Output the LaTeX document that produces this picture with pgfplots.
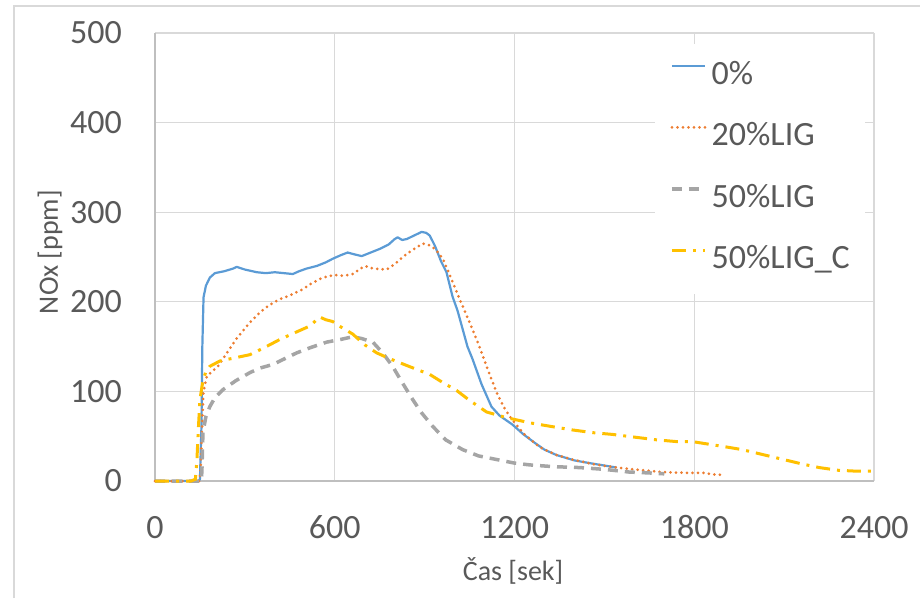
\documentclass[border=0pt]{standalone}
\usepackage{fontspec}
\setmainfont{Carlito}
\usepackage{pgfplots}
\pgfplotsset{compat=1.18}
\definecolor{cblue}{HTML}{5B9BD5}
\definecolor{corange}{HTML}{ED7D31}
\definecolor{cgray}{HTML}{A5A5A5}
\definecolor{cyellow}{HTML}{FFC000}
\definecolor{txt}{HTML}{595959}
\definecolor{gridc}{HTML}{D9D9D9}
\definecolor{axc}{HTML}{BFBFBF}
\begin{document}
\begin{tikzpicture}[x=1pt,y=1pt]
\useasboundingbox (0,0) rectangle (920,598);
\draw[gridc, line width=1.2pt] (14,0) -- (14,592) -- (920,592);
\begin{axis}[
  at={(155pt,117pt)}, anchor=south west,
  scale only axis, width=719pt, height=448pt,
  xmin=0, xmax=2400, ymin=0, ymax=500,
  xtick={0,600,1200,1800,2400}, ytick={0,100,200,300,400,500},
  axis x line*=bottom, axis y line*=left,
  axis line style={draw=axc, line width=1.3pt, -},
  major tick length=0pt,
  grid=major, major grid style={draw=gridc, line width=1.2pt},
  clip=false,
  /pgf/number format/assume math mode=true,
  /pgf/number format/set thousands separator={},
  tick label style={font=\fontsize{34}{40}\selectfont, text=txt, inner sep=0pt},
  xticklabel style={anchor=base, yshift=-57pt},
  yticklabel style={anchor=east, xshift=-33pt},
  xlabel={Čas [sek]},
  ylabel={NOx [ppm]},
  xlabel style={font=\fontsize{28}{32}\selectfont, text=txt, at={(axis description cs:0.498,-0.221)}, anchor=base, inner sep=0pt},
  ylabel style={font=\fontsize{28}{32}\selectfont, text=txt, at={(axis description cs:-0.146,0.511)}, anchor=center, inner sep=0pt},
  legend style={at={(axis description cs:0.6954,0.975)}, anchor=north west,
    draw=none, fill=white, inner xsep=15pt, inner ysep=18pt,
    font=\fontsize{34}{40}\selectfont, text=txt,
    row sep=32.5pt, column sep=5pt,
    nodes={inner sep=0pt, text height=22pt, text depth=7pt}},
  legend cell align=left,
  legend image code/.code={\draw[#1] (0pt,11pt) -- (33pt,11pt);},
]
\addplot[cblue, line width=2.2pt, line join=round] coordinates {
(0,0) (145,0) (150,2) (155,60) (158,150) (162,205) (170,218) (183,227) (200,232) (230,234) (260,237) (273,239) (300,236) (340,233) (370,232) (400,233) (430,232) (460,231) (480,234) (505,237) (540,240) (570,244) (593,248) (620,252) (643,255) (665,253) (690,251) (720,255) (750,259) (780,264) (800,270) (810,272) (825,269) (840,270) (865,274) (890,278) (905,277) (917,274) (935,262) (955,245) (973,233) (993,206) (1010,190) (1043,150) (1060,136) (1090,108) (1123,83) (1150,73) (1193,63) (1230,52) (1270,42) (1300,35) (1340,29) (1400,23) (1450,20) (1523,16) (1540,15)
};
\addlegendentry{0\%}
\addplot[corange, line width=3pt, dash pattern=on 0pt off 5.5pt, line cap=round] coordinates {
(0,0) (148,0) (152,10) (157,60) (162,100) (173,117) (190,122) (210,128) (240,143) (270,158) (317,177) (350,188) (380,196) (417,203) (450,207) (493,214) (520,220) (560,227) (600,230) (630,229) (660,231) (700,240) (730,237) (773,236) (800,242) (827,250) (860,258) (893,265) (910,264) (927,261) (945,255) (961,248) (990,225) (1017,203) (1050,177) (1083,150) (1110,125) (1140,99) (1165,82) (1193,68) (1230,53) (1283,38) (1340,29) (1393,24) (1460,19) (1540,15) (1600,13) (1693,10) (1780,9) (1830,9) (1873,7) (1895,7)
};
\addlegendentry{20\%LIG}
\addplot[cgray, line width=3.5pt, dash pattern=on 10pt off 7pt] coordinates {
(0,0) (155,0) (157,16) (160,54) (170,72) (183,83) (200,93) (227,102) (270,112) (317,121) (350,126) (393,130) (430,136) (473,143) (520,149) (573,155) (620,158) (660,161) (690,159) (727,155) (760,143) (793,128) (825,110) (860,91) (890,76) (927,61) (970,46) (1027,35) (1080,28) (1140,24) (1200,20) (1250,18) (1330,16) (1417,15) (1500,13) (1583,10) (1650,9) (1700,8)
};
\addlegendentry{50\%LIG}
\addplot[cyellow, line width=3pt, dash pattern=on 14pt off 7pt on 3pt off 7pt] coordinates {
(0,0) (120,0) (135,2) (140,24) (145,60) (150,91) (160,112) (170,122) (183,128) (200,131) (217,134) (260,137) (317,141) (360,148) (417,158) (470,166) (517,173) (540,180) (550,183) (570,180) (593,178) (620,172) (660,164) (700,152) (740,143) (780,137) (817,132) (870,125) (917,119) (960,110) (1007,101) (1050,90) (1107,77) (1170,71) (1250,65) (1320,61) (1393,57) (1460,54) (1527,52) (1600,49) (1673,46) (1740,44) (1793,44) (1850,41) (1907,38) (1960,35) (2010,31) (2060,27) (2110,23) (2160,19) (2217,15) (2280,12) (2340,11) (2400,11)
};
\addlegendentry{50\%LIG\_C}
\end{axis}
\end{tikzpicture}
\end{document}
